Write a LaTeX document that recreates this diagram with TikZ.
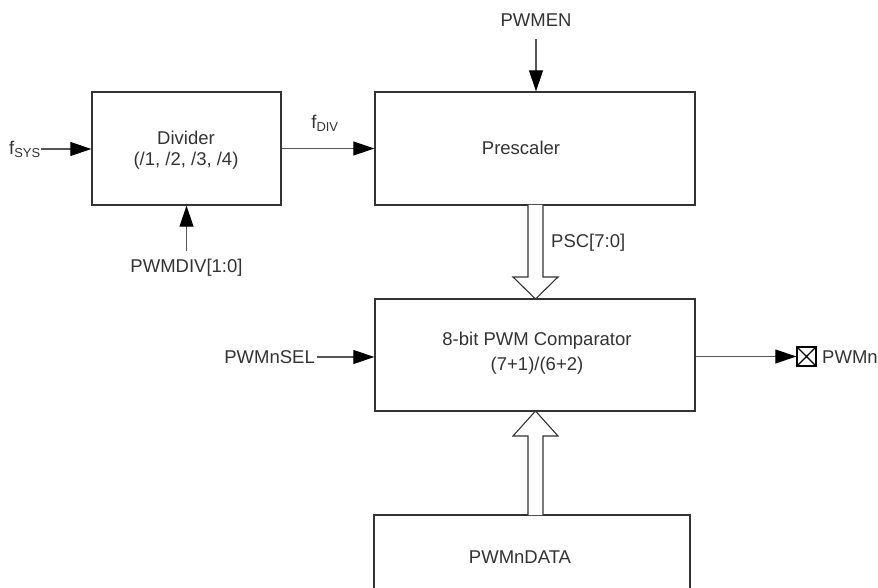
\documentclass[tikz,border=0pt]{standalone}
\usepackage{fontspec}
\setmainfont{Liberation Sans}
\usetikzlibrary{arrows.meta}
\definecolor{boxline}{HTML}{333333}
\definecolor{wireline}{HTML}{555555}
\definecolor{txt}{HTML}{333333}
\begin{document}
\begin{tikzpicture}[x=1pt,y=-1pt,
  every node/.style={font=\fontsize{18.5}{22}\selectfont, text=txt},
  blk/.style={draw=boxline, line width=1.4pt, rectangle, inner sep=0pt},
  lbl/.style={inner sep=0pt, align=center},
  wire/.style={draw=wireline, line width=1.1pt, -{Triangle[length=21pt,width=14pt,color=black]}},
  bus/.style={draw=boxline, line width=1.1pt, fill=white, line join=miter}
]
\clip (0,0) rectangle (878,588);
\fill[white] (0,0) rectangle (878,588);

% blocks
\node[blk, minimum width=189pt, minimum height=113pt] (div) at (186.5,148.5) {};
\node[blk, minimum width=320pt, minimum height=113pt] (pre) at (535,148.5) {};
\node[blk, minimum width=320pt, minimum height=112pt] (cmp) at (535,355) {};
\draw[boxline, line width=1.4pt] (374,600) -- (374,515) coordinate (dtl) -- (690,515) coordinate (dtr) -- (690,600);

% texts in blocks
\node[lbl] (divt1) at (186,138) {Divider};
\node[lbl] (divt2) at (186,161) {(/1, /2, /3, /4)};
\node[lbl] (pret) at (521,148) {Prescaler};
\node[lbl] (cmpt1) at (537,341) {8-bit PWM Comparator};
\node[lbl] (cmpt2) at (537,366) {(7+1)/(6+2)};
\node[lbl] (datat) at (520,557) {PWMnDATA};

% inputs
\node[lbl, anchor=west] (fsys) at (9,149) {f\textsubscript{SYS}};
\node[lbl] (fdiv) at (325,123) {f\textsubscript{DIV}};
\node[lbl] (pwmdiv) at (186.5,268) {PWMDIV[1:0]};
\node[lbl] (pwmen) at (536,20) {PWMEN};
\node[lbl, anchor=east] (pwmsel) at (315,357) {PWMnSEL};
\node[lbl, anchor=west] (psc) at (551,243) {PSC[7:0]};

\coordinate (divstart) at (186.5,251);
\draw[wire] (divstart) -- (divstart |- div.south);
\draw[wire] (fsys.east) -- (div.west |- fsys.east);
\draw[wire] (div.east) -- (pre.west);
\coordinate (enstart) at (536,39);
\draw[wire] (enstart) -- (enstart |- pre.north);
\draw[wire] ([xshift=2pt]pwmsel.east) -- (cmp.west |- pwmsel.east);

% output pin
\node[draw=black, line width=1.4pt, minimum size=19pt, inner sep=0pt] (pin) at (806.5,356.5) {};
\draw[black, line width=1.2pt] (pin.north west) -- (pin.south east) (pin.north east) -- (pin.south west);
\draw[wire] (cmp.east |- pin.west) -- (pin.west);
\node[lbl, anchor=west] (pwmn) at (822,357) {PWMn};

% hollow bus arrows
\draw[bus] (528,205) -- (528,277) -- (513,277) -- (535.5,299) -- (558,277) -- (543,277) -- (543,205);
\draw[bus] (528,515) -- (528,436) -- (513,436) -- (535.5,411) -- (558,436) -- (543,436) -- (543,515);
\end{tikzpicture}
\end{document}
